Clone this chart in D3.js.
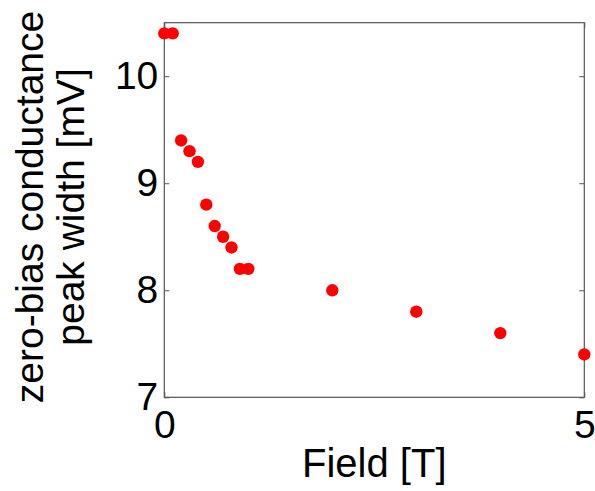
<!DOCTYPE html>
<html>
<head>
<meta charset="utf-8">
<script src="https://cdn.jsdelivr.net/npm/d3@7"></script>
<style>
  html, body { margin: 0; padding: 0; background: #fff; }
  svg { display: block; font-family: "Liberation Sans", Arial, sans-serif; }
</style>
</head>
<body>
<svg id="chart" width="595" height="491"></svg>
<script>
const fieldT = [0, 0.1, 0.2, 0.3, 0.4, 0.5, 0.6, 0.7, 0.8, 0.9, 1.0, 2, 3, 4, 5];
const peakWidth = [10.4, 10.4, 9.4, 9.3, 9.2, 8.8, 8.6, 8.5, 8.4, 8.2, 8.2, 8.0, 7.8, 7.6, 7.4];
const xTicks = [0, 5];
const yTicks = [7, 8, 9, 10];
const xLabel = "Field [T]";
const yLabelLines = ["zero-bias conductance", "peak width [mV]"];

const W = 595, H = 491;
const margin = {left: 164.3, top: 22.7, right: 10.7, bottom: 93.7};
const iw = W - margin.left - margin.right;
const ih = H - margin.top - margin.bottom;
const axisColor = "#555";

const svg = d3.select("#chart");
const g = svg.append("g").attr("transform", `translate(${margin.left},${margin.top})`);

const x = d3.scaleLinear().domain([0, 5]).range([0, iw]);
const y = d3.scaleLinear().domain([7, 10.5]).range([ih, 0]);

// Y axis left (inward ticks)
const yAxisL = g.append("g").call(d3.axisLeft(y).tickValues(yTicks).tickFormat(d3.format("d")).tickSizeInner(-5).tickSizeOuter(0).tickPadding(6));
// Y axis right (inward ticks, no labels)
const yAxisR = g.append("g").attr("transform", `translate(${iw},0)`).call(d3.axisRight(y).tickValues(yTicks).tickFormat("").tickSizeInner(-5).tickSizeOuter(0));
// X axis bottom
const xAxisB = g.append("g").attr("transform", `translate(0,${ih})`).call(d3.axisBottom(x).tickValues(xTicks).tickFormat(d3.format("d")).tickSizeInner(-5).tickSizeOuter(0).tickPadding(13));
const xAxisT = g.append("g").call(d3.axisTop(x).tickValues(xTicks).tickFormat("").tickSizeInner(-5).tickSizeOuter(0));

[yAxisL, yAxisR, xAxisB, xAxisT].forEach(a => {
  a.select(".domain").remove();
  a.selectAll(".tick line").attr("stroke", axisColor);
  a.selectAll(".tick text").attr("fill", "#000").style("font-size", "39px").style("font-family", "'Liberation Sans', Arial, sans-serif");
});

// Box
g.append("rect").attr("x", 0).attr("y", 0).attr("width", iw).attr("height", ih)
  .attr("fill", "none").attr("stroke", axisColor).attr("stroke-width", 1.2);

// Points
g.append("g").selectAll("circle").data(fieldT.map((f, i) => ({f, w: peakWidth[i]})))
  .join("circle")
  .attr("cx", d => x(d.f)).attr("cy", d => y(d.w)).attr("r", 6.2)
  .attr("fill", "#ff0000");

// X label
svg.append("text").attr("x", margin.left + iw / 2).attr("y", 477)
  .attr("text-anchor", "middle").style("font-size", "40px").attr("fill", "#000").text(xLabel);

// Y label (two lines)
const yl = svg.append("text").attr("transform", "translate(0,207) rotate(-90)")
  .attr("text-anchor", "middle").style("font-size", "39px").attr("fill", "#000");
yl.append("tspan").attr("x", 0).attr("y", 43).text(yLabelLines[0]);
yl.append("tspan").attr("x", 0).attr("y", 84).text(yLabelLines[1]);
</script>
</body>
</html>
